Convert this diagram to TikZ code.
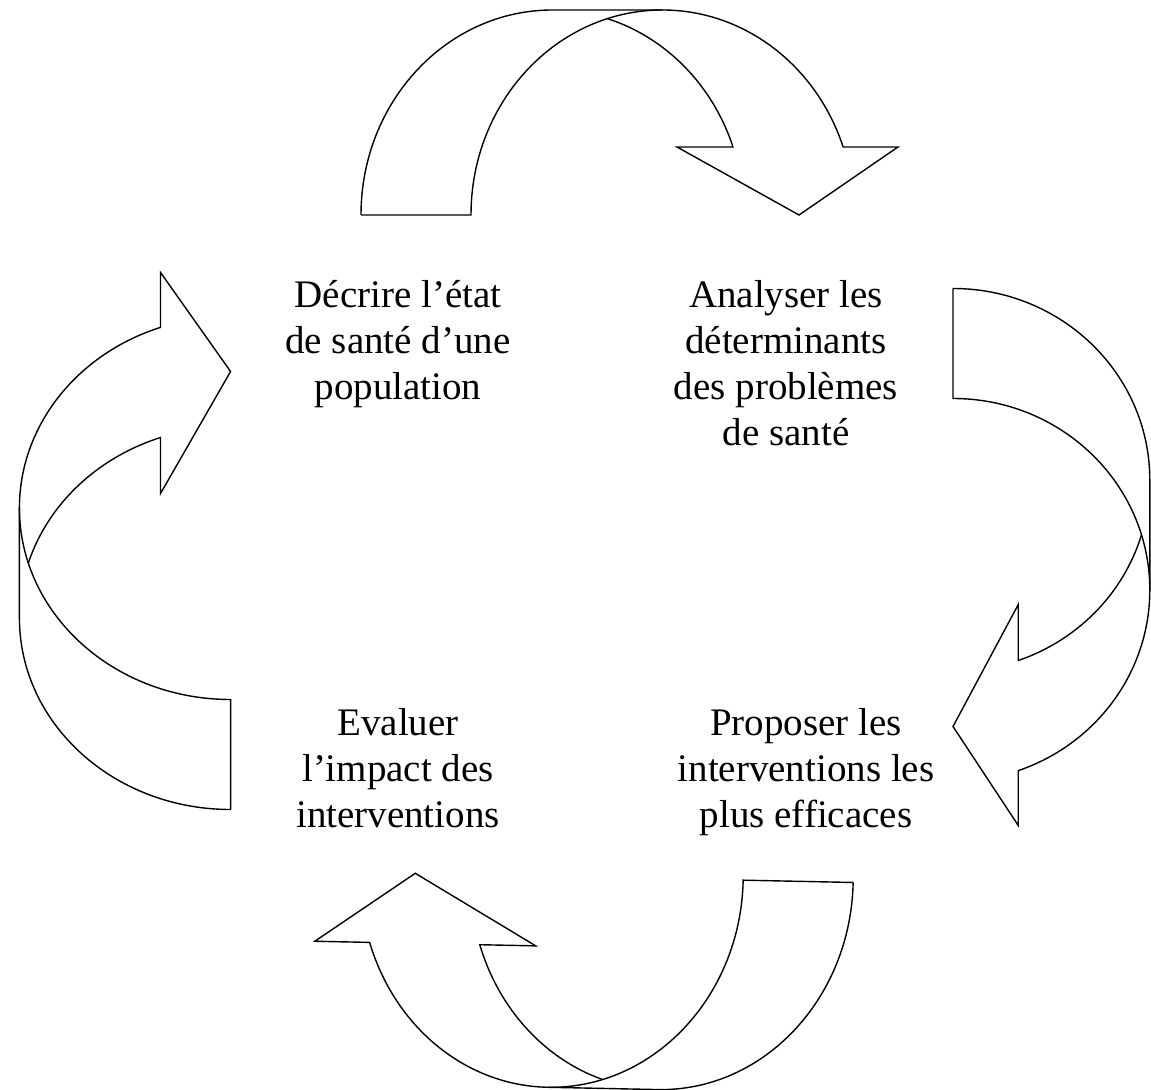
\documentclass[tikz,border=0pt]{standalone}
\usepackage{fontspec}
\setmainfont{Liberation Serif}
\usepackage{tikz}
\tikzset{
    arrowline/.style={line width=0.7pt, line join=miter},
    stage/.style={font=\fontsize{19.5}{23}\selectfont, align=center, anchor=north, inner sep=0pt},
    cyclearrow/.pic={
        \draw[arrowline] (-268.5,102.5) arc[start angle=180, end angle=270, x radius=191.5, y radius=205]
            -- (33,-102.5) arc[start angle=270, end angle=340.63, x radius=191.5, y radius=205]
            -- (268.5,34.5) -- (169.5,102.5) -- (47.5,34.5) -- (103.5,34.5)
            arc[start angle=340.63, end angle=286.7, x radius=191.5, y radius=205];
        \draw[arrowline] (-268.5,102.5) -- (-158.5,102.5)
            arc[start angle=180, end angle=270, x radius=191.5, y radius=205];
    }
}

\begin{document}
\begin{tikzpicture}[x=0.5pt, y=-0.5pt]
    \useasboundingbox (0,0) rectangle (1151,1090);
    \path (629.5,112.5) pic {cyclearrow};
    \path (1051.4,557) pic[rotate=-90, yscale=0.96] {cyclearrow};
    \path (582.5,982.4) pic[rotate=178.8, yscale=1.03] {cyclearrow};
    \path (125,541) pic[rotate=90, yscale=1.03] {cyclearrow};
    \node[stage] (describe) at (398,280) {Décrire l’état\\de santé d’une\\population};
    \node[stage] (analyse) at (786,280) {Analyser les\\déterminants\\des problèmes\\de santé};
    \node[stage] (propose) at (806,708) {Proposer les\\interventions les\\plus efficaces};
    \node[stage] (evaluate) at (398,708) {Evaluer\\l’impact des\\interventions};
\end{tikzpicture}
\end{document}
